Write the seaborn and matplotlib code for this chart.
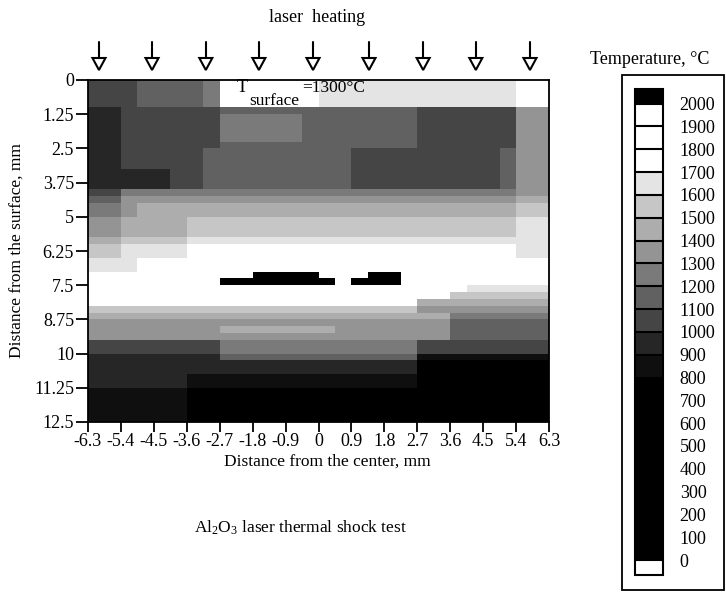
import numpy as np
import matplotlib
matplotlib.use("Agg")
import matplotlib.pyplot as plt
import seaborn as sns
from matplotlib.colors import ListedColormap, BoundaryNorm
from matplotlib.patches import Rectangle, Polygon
from matplotlib.lines import Line2D
import matplotlib.transforms as mtransforms

# ---------------- data ----------------
x_min_mm = -6.3
x_cell_mm = 0.45          # width of one grid column (28 columns over 12.6 mm)
depth_min_mm = 0.0
depth_cell_mm = 0.25      # height of one grid row (50 rows over 12.5 mm)

x_tick_values = [-6.3, -5.4, -4.5, -3.6, -2.7, -1.8, -0.9, 0.0, 0.9, 1.8, 2.7, 3.6, 4.5, 5.4, 6.3]
x_tick_labels = ["-6.3", "-5.4", "-4.5", "-3.6", "-2.7", "-1.8", "-0.9", "0",
                 "0.9", "1.8", "2.7", "3.6", "4.5", "5.4", "6.3"]
depth_tick_values = [0, 1.25, 2.5, 3.75, 5, 6.25, 7.5, 8.75, 10, 11.25, 12.5]
depth_tick_labels = ["0", "1.25", "2.5", "3.75", "5", "6.25", "7.5", "8.75", "10", "11.25", "12.5"]

temperature_levels = [0, 100, 200, 300, 400, 500, 600, 700, 800, 900, 1000,
                      1100, 1200, 1300, 1400, 1500, 1600, 1700, 1800, 1900, 2000]
level_colors = ["#000000", "#000000", "#000000", "#000000", "#000000", "#000000",
                "#000000", "#000000", "#0f0f0f", "#262626", "#454545", "#616161",
                "#7a7a7a", "#949494", "#adadad", "#c6c6c6", "#e4e4e4",
                "#ffffff", "#ffffff", "#ffffff"]
under_color = "#ffffff"
over_color = "#000000"

arrow_x_mm = [-6.0, -4.55, -3.08, -1.63, -0.15, 1.38, 2.86, 4.30, 5.78]

# temperature field (deg C), 50 depth rows (0 -> 12.5 mm) x 28 columns (-6.3 -> 6.3 mm)
temperature_rows = [
    "1050 1050 1050  1150 1150 1150 1150  1250  1750 1750 1750 1750 1750 1750  1650 1650 1650 1650 1650 1650 1650 1650 1650 1650 1650 1650  1750 1750",
    "1050 1050 1050  1150 1150 1150 1150  1250  1750 1750 1750 1750 1750 1750  1650 1650 1650 1650 1650 1650 1650 1650 1650 1650 1650 1650  1750 1750",
    "1050 1050 1050  1150 1150 1150 1150  1250  1750 1750 1750 1750 1750 1750  1650 1650 1650 1650 1650 1650 1650 1650 1650 1650 1650 1650  1750 1750",
    "1050 1050 1050  1150 1150 1150 1150  1250  1750 1750 1750 1750 1750 1750  1650 1650 1650 1650 1650 1650 1650 1650 1650 1650 1650 1650  1750 1750",
    "950 950  1050 1050 1050 1050 1050 1050  1150 1150 1150 1150 1150 1150 1150 1150 1150 1150 1150 1150  1050 1050 1050 1050 1050 1050  1350 1350",
    "950 950  1050 1050 1050 1050 1050 1050  1250 1250 1250 1250 1250  1150 1150 1150 1150 1150 1150 1150  1050 1050 1050 1050 1050 1050  1350 1350",
    "950 950  1050 1050 1050 1050 1050 1050  1250 1250 1250 1250 1250  1150 1150 1150 1150 1150 1150 1150  1050 1050 1050 1050 1050 1050  1350 1350",
    "950 950  1050 1050 1050 1050 1050 1050  1250 1250 1250 1250 1250  1150 1150 1150 1150 1150 1150 1150  1050 1050 1050 1050 1050 1050  1350 1350",
    "950 950  1050 1050 1050 1050 1050 1050  1250 1250 1250 1250 1250  1150 1150 1150 1150 1150 1150 1150  1050 1050 1050 1050 1050 1050  1350 1350",
    "950 950  1050 1050 1050 1050 1050 1050  1150 1150 1150 1150 1150 1150 1150 1150 1150 1150 1150 1150  1050 1050 1050 1050 1050 1050  1350 1350",
    "950 950  1050 1050 1050 1050 1050  1150 1150 1150 1150 1150 1150 1150 1150 1150  1050 1050 1050 1050 1050 1050 1050 1050 1050  1150  1350 1350",
    "950 950  1050 1050 1050 1050 1050  1150 1150 1150 1150 1150 1150 1150 1150 1150  1050 1050 1050 1050 1050 1050 1050 1050 1050  1150  1350 1350",
    "950 950  1050 1050 1050 1050 1050  1150 1150 1150 1150 1150 1150 1150 1150 1150  1050 1050 1050 1050 1050 1050 1050 1050 1050  1150  1350 1350",
    "950 950 950 950 950  1050 1050  1150 1150 1150 1150 1150 1150 1150 1150 1150  1050 1050 1050 1050 1050 1050 1050 1050 1050  1150  1350 1350",
    "950 950 950 950 950  1050 1050  1150 1150 1150 1150 1150 1150 1150 1150 1150  1050 1050 1050 1050 1050 1050 1050 1050 1050  1150  1350 1350",
    "950 950 950 950 950  1050 1050  1150 1150 1150 1150 1150 1150 1150 1150 1150  1050 1050 1050 1050 1050 1050 1050 1050 1050  1150  1350 1350",
    "1050 1050  1250 1250 1250 1250 1250 1250  1250 1250 1250 1250 1250 1250  1250 1250 1250 1250 1250 1250  1250 1250 1250 1250 1250 1250  1350 1350",
    "1150 1150  1350 1350 1350 1350 1350 1350  1350 1350 1350 1350 1350 1350  1350 1350 1350 1350 1350 1350  1350 1350 1350 1350 1350 1350  1450 1450",
    "1250 1250 1350  1450 1450 1450 1450 1450  1450 1450 1450 1450 1450 1450  1450 1450 1450 1450 1450 1450  1450 1450 1450 1450 1450 1450  1550 1550",
    "1250 1250 1350  1450 1450 1450 1450 1450  1450 1450 1450 1450 1450 1450  1450 1450 1450 1450 1450 1450  1450 1450 1450 1450 1450 1450  1550 1550",
    "1350 1350  1450 1450 1450 1450  1550 1550  1550 1550 1550 1550 1550 1550  1550 1550 1550 1550 1550 1550  1550 1550 1550 1550 1550 1550  1650 1650",
    "1350 1350  1450 1450 1450 1450  1550 1550  1550 1550 1550 1550 1550 1550  1550 1550 1550 1550 1550 1550  1550 1550 1550 1550 1550 1550  1650 1650",
    "1350 1350  1450 1450 1450 1450  1550 1550  1550 1550 1550 1550 1550 1550  1550 1550 1550 1550 1550 1550  1550 1550 1550 1550 1550 1550  1650 1650",
    "1450 1450  1550 1550 1550 1550  1650 1650  1650 1650 1650 1650 1650 1650  1650 1650 1650 1650 1650 1650  1650 1650 1650 1650 1650 1650  1650 1650",
    "1550 1550  1650 1650 1650 1650  1750 1750  1750 1750 1750 1750 1750 1750  1750 1750 1750 1750 1750 1750  1750 1750 1750 1750 1750 1750  1650 1650",
    "1550 1550  1650 1650 1650 1650  1750 1750  1750 1750 1750 1750 1750 1750  1750 1750 1750 1750 1750 1750  1750 1750 1750 1750 1750 1750  1650 1650",
    "1650 1650 1650  1850 1850 1850 1850 1850  1850 1850 1850 1850 1850 1850  1850 1850 1850 1850 1850 1850  1850 1850 1850 1850 1850 1850  1850 1850",
    "1650 1650 1650  1850 1850 1850 1850 1850  1850 1850 1850 1850 1850 1850  1850 1850 1850 1850 1850 1850  1850 1850 1850 1850 1850 1850  1850 1850",
    "1850 1850 1850 1850 1850 1850 1850 1850 1850 1850  2050 2050 2050 2050  1850 1850 1850  2050 2050  1850 1850 1850 1850 1850 1850 1850 1850 1850",
    "1850 1850 1850 1850 1850 1850 1850 1850  2050 2050 2050 2050 2050 2050 2050  1850  2050 2050 2050  1850 1850 1850 1850  1750 1750 1750 1750 1750",
    "1850 1850 1850 1850 1850 1850 1850 1850 1850 1850 1850 1850 1850 1850 1850 1850 1850 1850 1850 1850 1850 1850 1850  1650 1650 1650 1650 1650",
    "1750 1750 1750 1750 1750 1750 1750 1750 1750 1750 1750 1750 1750 1750 1750 1750 1750 1750 1750 1750 1750 1750  1550 1550 1550 1550 1550 1550",
    "1750 1750 1750 1750 1750 1750 1750 1750 1750 1750 1750 1750 1750 1750 1750 1750 1750 1750 1750 1750  1450 1450 1450 1450 1450 1450 1450 1450",
    "1550 1550 1550 1550 1550 1550 1550 1550 1550 1550 1550 1550 1550 1550 1550 1550 1550 1550 1550 1550  1350 1350 1350 1350 1350 1350 1350 1350",
    "1450 1450 1450 1450 1450 1450 1450 1450 1450 1450 1450 1450 1450 1450 1450 1450 1450 1450 1450 1450 1450 1450  1250 1250 1250 1250 1250 1250",
    "1350 1350 1350 1350 1350 1350 1350 1350 1350 1350 1350 1350 1350 1350 1350 1350 1350 1350 1350 1350 1350 1350  1150 1150 1150 1150 1150 1150",
    "1350 1350 1350 1350 1350 1350 1350 1350  1450 1450 1450 1450 1450 1450 1450  1350 1350 1350 1350 1350 1350 1350  1150 1150 1150 1150 1150 1150",
    "1350 1350 1350 1350 1350 1350 1350 1350 1350 1350 1350 1350 1350 1350 1350 1350 1350 1350 1350 1350 1350 1350  1150 1150 1150 1150 1150 1150",
    "1050 1050 1050 1050 1050 1050 1050 1050  1250 1250 1250 1250 1250 1250 1250 1250 1250 1250 1250 1250  1050 1050 1050 1050 1050 1050 1050 1050",
    "1050 1050 1050 1050 1050 1050 1050 1050  1250 1250 1250 1250 1250 1250 1250 1250 1250 1250 1250 1250  1050 1050 1050 1050 1050 1050 1050 1050",
    "950 950 950 950 950 950 950 950  1150 1150 1150 1150 1150 1150 1150 1150 1150 1150 1150 1150  850 850 850 850 850 850 850 850",
    "950 950 950 950 950 950 950 950 950 950 950 950 950 950 950 950 950 950 950 950  750 750 750 750 750 750 750 750",
    "950 950 950 950 950 950 950 950 950 950 950 950 950 950 950 950 950 950 950 950  750 750 750 750 750 750 750 750",
    "950 950 950 950 950 950  850 850 850 850 850 850 850 850 850 850 850 850 850 850  650 650 650 650 650 650 650 650",
    "950 950 950 950 950 950  850 850 850 850 850 850 850 850 850 850 850 850 850 850  650 650 650 650 650 650 650 650",
    "850 850 850 850 850 850  650 650 650 650 650 650 650 650 650 650 650 650 650 650 650 650 650 650 650 650 650 650",
    "850 850 850 850 850 850  650 650 650 650 650 650 650 650 650 650 650 650 650 650 650 650 650 650 650 650 650 650",
    "850 850 850 850 850 850  650 650 650 650 650 650 650 650 650 650 650 650 650 650 650 650 650 650 650 650 650 650",
    "850 850 850 850 850 850  650 650 650 650 650 650 650 650 650 650 650 650 650 650 650 650 650 650 650 650 650 650",
    "850 850 850 850 850 850  650 650 650 650 650 650 650 650 650 650 650 650 650 650 650 650 650 650 650 650 650 650",
]

temperature_grid = np.array([[float(v) for v in row.split()] for row in temperature_rows])
for i, row in enumerate(temperature_grid):
    assert len(row) == 28, (i, len(row))
assert temperature_grid.shape == (50, 28), temperature_grid.shape

# ---------------- style ----------------
sns.set_theme(style="white")
plt.rcParams["font.family"] = ["Liberation Serif", "DejaVu Serif"]
plt.rcParams["mathtext.fontset"] = "custom"
plt.rcParams["mathtext.rm"] = "Liberation Serif"
plt.rcParams["mathtext.it"] = "Liberation Serif:italic"
plt.rcParams["text.color"] = "black"

W, H = 726.0, 592.0
fig = plt.figure(figsize=(W / 100, H / 100), dpi=100)
fig.patch.set_facecolor("white")

ax = fig.add_axes([88 / W, 1 - 422 / H, 461 / W, 342 / H])
ext = 0.032
inner = 456.5
total = inner * (1 + 2 * ext)
cax = fig.add_axes([635 / W, (H - (89 + total)) / H, 28 / W, total / H])

cmap = ListedColormap(level_colors)
cmap.set_under(under_color)
cmap.set_over(over_color)
norm = BoundaryNorm(temperature_levels, ncolors=cmap.N)

sns.heatmap(temperature_grid, ax=ax, cmap=cmap, norm=norm, cbar=True, cbar_ax=cax,
            cbar_kws=dict(extend="both", extendrect=True, extendfrac=ext,
                          drawedges=True, ticks=temperature_levels),
            xticklabels=False, yticklabels=False)

# axes ticks
ax.set_xticks([(v - x_min_mm) / x_cell_mm for v in x_tick_values])
ax.set_xticklabels(x_tick_labels, rotation=0)
ax.set_yticks([(d - depth_min_mm) / depth_cell_mm for d in depth_tick_values])
ax.set_yticklabels(depth_tick_labels, rotation=0)
ax.tick_params(axis="x", bottom=True, direction="out", length=7, width=1.3,
               pad=1, labelsize=13, colors="black")
ax.tick_params(axis="y", left=True, direction="out", length=9, width=1.3,
               pad=1, labelsize=13, colors="black")
for s in ax.spines.values():
    s.set_visible(True)
    s.set_color("black")
    s.set_linewidth(1.3)
ax.set_xlabel("")
ax.set_ylabel("")

# colorbar styling
cb = ax.collections[0].colorbar
cb.outline.set_linewidth(1.5)
cb.outline.set_edgecolor("black")
cb.dividers.set_color("black")
cb.dividers.set_linewidth(1.5)
cb.set_ticks(temperature_levels)
cb.set_ticklabels([str(v) for v in temperature_levels])
cb.ax.tick_params(length=0, pad=12, labelsize=13, colors="black")

# colorbar frame
fig.add_artist(Rectangle((622 / W, 1 - 590 / H), (724 - 622) / W, (590 - 75) / H,
                         transform=fig.transFigure, fill=False, ec="black", lw=1.3))

# texts
def fy(py):
    return 1 - py / H

fig.text(317 / W, fy(18), "laser  heating", ha="center", va="center", fontsize=13)
fig.text(650 / W, fy(60), "Temperature, °C", ha="center", va="center", fontsize=13)
fig.text(327 / W, fy(462), "Distance from the center, mm", ha="center", va="center", fontsize=12.5)
fig.text(17 / W, fy(251), "Distance from the surface, mm", ha="center", va="center",
         rotation=90, fontsize=12.5)
fig.text(300 / W, fy(528), r"Al$_\mathregular{2}$O$_\mathregular{3}$ laser thermal shock test",
         ha="center", va="center", fontsize=12.5)
fig.text(237 / W, fy(88), "T", ha="left", va="center", fontsize=13)
fig.text(249 / W, fy(101), "surface", ha="left", va="center", fontsize=12.5)
fig.text(302 / W, fy(88), "=1300°C", ha="left", va="center", fontsize=12.5)

# laser arrows
blend = mtransforms.blended_transform_factory(ax.transData, fig.transFigure)
half_w = 6.5 / (461 / 28)
for xm in arrow_x_mm:
    xc = (xm - x_min_mm) / x_cell_mm
    fig.add_artist(Line2D([xc, xc], [fy(42), fy(58)], transform=blend, color="black", lw=1.5))
    fig.add_artist(Polygon([[xc - half_w, fy(58)], [xc + half_w, fy(58)], [xc, fy(70)]],
                           closed=True, transform=blend, fc="white", ec="black", lw=1.5))

fig.savefig("out.png", dpi=100, facecolor="white")
